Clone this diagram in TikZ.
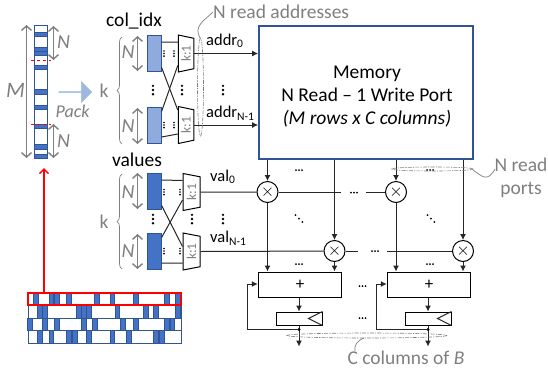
\documentclass[tikz,border=0pt]{standalone}
\usepackage{fontspec}
\setmainfont{Carlito}
\usetikzlibrary{arrows.meta,shapes.geometric,shapes.arrows,decorations.pathreplacing}
\definecolor{dkblue}{HTML}{2F5597}
\definecolor{midblue}{HTML}{4472C4}
\definecolor{ltblue}{HTML}{8FAADC}
\definecolor{grtxt}{HTML}{7F7F7F}
\tikzset{
  band/.style={fill=midblue,draw=dkblue,line width=0.5pt},
  wire/.style={line width=1pt,black!85},
  sig/.style={wire,-{Latex[length=6pt,width=6pt]}},
  dim/.style={grtxt,line width=1.4pt,{Straight Barb[length=4.5pt,width=10pt]}-{Straight Barb[length=4.5pt,width=10pt]}},
  gtext/.style={grtxt,font=\fontsize{19.5}{23}\selectfont,inner sep=0pt},
  ntext/.style={grtxt,font=\fontsize{20}{20}\selectfont\itshape,inner sep=0pt},
  btext/.style={black,font=\fontsize{19.5}{23}\selectfont,inner sep=0pt},
  subtext/.style={black,font=\fontsize{16.5}{18}\selectfont,inner sep=0pt},
  stripblock/.style={draw=dkblue,line width=0.7pt,minimum width=13.5pt,minimum height=36pt,inner sep=0pt},
  muxbox/.style={draw=black,line width=1pt,fill=white,trapezium,shape border rotate=180,rotate=90,
    trapezium stretches body,trapezium angle=71,minimum width=37pt,inner sep=0pt,text=grtxt,
    font=\fontsize{13.5}{13.5}\selectfont},
  mult/.style={circle,draw=black,line width=1pt,fill=white,minimum size=21pt,inner sep=0pt,font=\fontsize{19}{19}\selectfont},
  addbox/.style={draw=black,line width=1pt,minimum width=83.5pt,minimum height=25pt,inner sep=0pt,font=\fontsize{17}{17}\selectfont},
  regbox/.style={draw=black,line width=1pt,minimum width=46pt,minimum height=13pt,inner sep=0pt},
  group/.style={grtxt,line width=0.6pt,dash pattern=on 4pt off 1.2pt on 1.2pt off 1.2pt},
  lead/.style={grtxt,line width=0.7pt},
  vdots3/.pic={\foreach \i in {-4.2,0,4.2} \fill (0,\i) circle (1.3pt);},
  vdots2/.pic={\foreach \i in {-2.6,0,2.6} \fill (0,\i) circle (0.9pt);},
  hdots3/.pic={\foreach \i in {-3,0,3} \fill (\i,0) circle (1pt);},
  ddots3/.pic={\foreach \i in {-3.4,0,3.4} \fill (\i,-\i) circle (1pt);}
}
\begin{document}
\begin{tikzpicture}[x=1pt,y=1pt,yscale=-1]
  \useasboundingbox (0,0) rectangle (548,373);

  %% Packed strip
  \draw [fill=white,draw=dkblue,line width=0.8pt] (34.5,25.5) rectangle (47.5,158.5);
  \foreach \a/\b in {32/36,47/51,51/55,65/69,89/94,105/109,124/128,144/149,154/158}
    \draw [band] (34.5,\a) rectangle (47.5,\b);
  \draw [red,dashed,line width=0.9pt] (31,60.5) -- (51,60.5);
  \draw [red,dashed,line width=0.9pt] (31,124) -- (51,124);
  \draw [dim] (26.5,25) -- (26.5,158);
  \draw [dim] (53.5,26) -- (53.5,60);
  \draw [dim] (53.5,124) -- (53.5,158);
  \node [ntext,font=\fontsize{22}{22}\selectfont\itshape] (stripm) at (15.5,90.5) {M};
  \node [ntext] (stripna) at (63.5,42.5) {N};
  \node [ntext] (stripnb) at (63.5,141) {N};
  \node [single arrow,draw=ltblue!80,fill=ltblue!85,line width=0.5pt,minimum width=21pt,minimum height=33pt,
    single arrow head extend=5pt,single arrow head indent=0pt,inner sep=0pt] (packarrow) at (75,92) {};
  \node [gtext,font=\fontsize{18}{20}\selectfont\itshape] (packtext) at (72.5,111) {Pack};

  %% col_idx inputs
  \node [btext] (colidx) at (134,21) {col\_idx};
  \node [gtext] (colk) at (104,91) {k};
  \draw [grtxt,line width=0.7pt,decorate,decoration={brace,amplitude=5pt}] (122,144) -- (122,37);
  \draw [dim] (137.5,36) -- (137.5,71);
  \draw [dim] (137.5,108) -- (137.5,144);
  \node [ntext] (colna) at (128,52.5) {N};
  \node [ntext] (colnb) at (128,126) {N};
  \node [stripblock,fill=ltblue] (cola) at (154.5,53.5) {};
  \node [stripblock,fill=ltblue] (colb) at (154.5,125.5) {};
  \node [muxbox,minimum height=15.5pt] (muxa) at (186,53.5) {k:1};
  \node [muxbox,minimum height=15.5pt] (muxb) at (186,125) {k:1};
  \draw [wire] ([yshift=-11.5pt]cola.east) -- ([yshift=-11.5pt]muxa.north);
  \draw [wire] ([yshift=11.5pt]colb.east) -- ([yshift=9pt]muxb.north);
  \draw [wire] ([yshift=14pt]cola.east) -- ([yshift=-15pt]muxb.north);
  \draw [wire] ([yshift=-14pt]colb.east) -- ([yshift=12pt]muxa.north);
  \foreach \x in {164,174} {
    \pic at (\x,53.5) {vdots2};
    \pic at (\x,125) {vdots2};
  }
  \foreach \x in {153,182,223}
    \pic at (\x,90) {vdots3};

  %% Memory
  \node [draw=dkblue,line width=1.8pt,minimum width=214pt,minimum height=133pt,inner sep=0pt] (mem) at (366,92.5) {};
  \node [btext,align=center] (memtext) at (367,97) {Memory\\N Read – 1 Write Port\\\textit{(M rows x C columns)}};
  \draw [sig] (muxa.south) -- (muxa.south -| mem.west);
  \draw [sig] (muxb.south) -- (muxb.south -| mem.west);
  \node [subtext,anchor=west] (addra) at (206,41) {addr\textsubscript{0}};
  \node [subtext,anchor=west] (addrb) at (206,113) {addr\textsubscript{N-1}};
  \node [gtext,anchor=west] (readaddr) at (213,12) {N read addresses};
  \draw [group] (200.5,87) ellipse (3 and 49);
  \draw [lead] (readaddr.west) .. controls (205,20) and (193,26) .. (200,38);

  %% values inputs
  \node [btext] (values) at (137,160) {values};
  \node [gtext] (valk) at (104,222) {k};
  \draw [grtxt,line width=0.7pt,decorate,decoration={brace,amplitude=5pt}] (122,269) -- (122,174);
  \draw [dim] (137.5,173) -- (137.5,209);
  \draw [dim] (137.5,234) -- (137.5,269);
  \node [ntext] (valna) at (128,192) {N};
  \node [ntext] (valnb) at (128,251) {N};
  \node [stripblock,fill=midblue] (vala) at (154.5,191.5) {};
  \node [stripblock,fill=midblue] (valb) at (154.5,251.5) {};
  \node [muxbox,minimum height=17pt] (muxc) at (191.5,192) {k:1};
  \node [muxbox,minimum height=17pt] (muxd) at (191.5,251.5) {k:1};
  \draw [wire] ([yshift=-11.5pt]vala.east) -- ([yshift=-11.5pt]muxc.north);
  \draw [wire] ([yshift=11.5pt]valb.east) -- ([yshift=11.5pt]muxd.north);
  \draw [wire] ([yshift=14pt]vala.east) -- ([yshift=-5pt]muxd.north);
  \draw [wire] ([yshift=-14pt]valb.east) -- ([yshift=8pt]muxc.north);
  \foreach \x in {164,180} {
    \pic at (\x,192) {vdots2};
    \pic at (\x,251) {vdots2};
  }
  \foreach \x in {153,192,223}
    \pic at (\x,219) {vdots3};
  \node [subtext,anchor=west] (vallabela) at (210,177) {val\textsubscript{0}};
  \node [subtext,anchor=west] (vallabelb) at (210,238) {val\textsubscript{N-1}};

  %% Multipliers
  \node [mult] (mula) at (267.5,192) {$\times$};
  \node [mult] (mulb) at (334.5,251) {$\times$};
  \node [mult] (mulc) at (396,192) {$\times$};
  \node [mult] (muld) at (463,251) {$\times$};
  \coordinate (rowa) at (341,192);
  \coordinate (rowb) at (366,192);
  \coordinate (rowc) at (358,251);
  \coordinate (rowd) at (387,251);
  \draw [wire] (muxc.south) -- (mula);
  \draw [wire] (mula) -- (rowa);
  \draw [wire] (rowb) -- (mulc);
  \draw [wire] (muxd.south) -- (mulb);
  \draw [wire] (mulb) -- (rowc);
  \draw [wire] (rowd) -- (muld);

  %% Adders and registers
  \node [addbox] (adda) at (300,284.5) {+};
  \node [addbox] (addb) at (429,284.5) {+};
  \node [regbox] (rega) at (299,318.5) {};
  \node [regbox] (regb) at (428,318.5) {};
  \draw [wire] (rega.north east) -- ([xshift=-14pt]rega.east) -- (rega.south east);
  \draw [wire] (regb.north east) -- ([xshift=-14pt]regb.east) -- (regb.south east);
  \foreach \m/\a in {mula/adda,mulb/adda,mulc/addb,muld/addb} {
    \draw [sig] (mem.south -| \m) -- (\m);
    \draw [sig] (\m) -- (\m |- \a.north);
  }
  \foreach \a/\r/\x in {adda/rega/247,addb/regb/376} {
    \coordinate (\r out) at ([yshift=4pt]\r.south);
    \coordinate (\r end) at ([yshift=21pt]\r.south);
    \coordinate (\r back) at (\x,329.5);
    \coordinate (\r up) at (\x,284);
    \draw [sig] (\r.north |- \a.south) -- (\r.north);
    \draw [sig] (\r.south) -- (\r end);
    \fill (\r out) circle (1.7pt);
    \draw [sig] (\r out) -- (\r back) -- (\r up) -- (\r up -| \a.west);
  }

  %% Dots between the lanes
  \foreach \x/\y in {299/170,299/264,430/170,430/264,354/192.5,375/251,362.5/286,362.5/318}
    \pic at (\x,\y) {hdots3};
  \pic at (299,218.5) {ddots3};
  \pic at (431,218.5) {ddots3};

  %% Groups and their labels
  \draw [group] (432.5,169) ellipse (41 and 2);
  \draw [group] (367,335.5) ellipse (80 and 2.5);
  \node [gtext,align=center,anchor=north] (readports) at (521,158) {N read\\ports};
  \draw [lead] (473,170) .. controls (482,176) and (487,183) .. (495,169);
  \node [gtext] (cols) at (406,358) {C columns of \textit{B}};
  \draw [lead] (355,351) .. controls (354,345) and (357,341) .. (364,338);

  %% Sparse matrix
  \foreach \y/\bands in {
    293/{33.3,49,54.3,66.7,94.3,110,133.3,164.3,175.7},
    305.5/{37.7,42.7,76.7,81.7,86.7,115,143.3,153.3,175.7},
    318/{27.7,42.7,54.3,81.7,92.7,120.7,133.3,164.3,170},
    330.5/{37.7,49,66.7,72.3,86.7,110,126.7,153.3,159.3}} {
    \draw [fill=white,draw=dkblue,line width=0.7pt] (28,\y) rectangle (181,\y+12.5);
    \foreach \x in \bands
      \draw [band] (\x,\y) rectangle (\x+4.7,\y+12.5);
  }
  \node [draw=red,line width=1.8pt,minimum width=153pt,minimum height=12.5pt,inner sep=0pt] (redrow) at (104.5,299) {};
  \coordinate (redtip) at (44,168);
  \draw [red,line width=1.5pt,-{Straight Barb[length=4.5pt,width=9pt]}] (redrow.north -| redtip) -- (redtip);
\end{tikzpicture}
\end{document}
